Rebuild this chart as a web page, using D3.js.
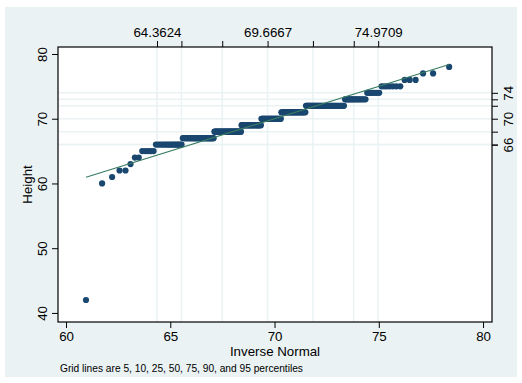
<!DOCTYPE html>
<html>
<head>
<meta charset="utf-8">
<script src="https://cdn.jsdelivr.net/npm/d3@7"></script>
<style>
  body { margin: 0; background: #fff; }
  text { font-family: "Liberation Sans", Arial, sans-serif; fill: #000; }
</style>
</head>
<body>
<div id="chart"></div>
<script>
// sorted heights and how many observations have each value
const heights = [42, 60, 61, 62, 63, 64, 65, 66, 67, 68, 69, 70, 71, 72, 73, 74, 75, 76, 77, 78];
const counts  = [1, 1, 1, 2, 1, 2, 5, 16, 32, 39, 33, 34, 39, 46, 16, 7, 7, 3, 2, 1];

// mean and sd of the normal used for the inverse-normal axis
const meanH = 69.6667;
const sdH = 3.22474;

const xTicks = [60, 65, 70, 75, 80];
const yTicks = [40, 50, 60, 70, 80];

// percentile grid (5,10,25,50,75,90,95)
const pctX = [64.3624, 65.5340, 67.4916, 69.6667, 71.8418, 73.7994, 74.9709];
const pctXLabels = ["64.3624", "", "", "69.6667", "", "", "74.9709"];
const pctY = [66, 66, 68, 70, 72, 73, 74];
const pctYLabels = ["66", "", "", "70", "", "", "74"];

const W = 522, H = 383;
const plot = { left: 58, right: 492, top: 47, bottom: 322 };

const x = d3.scaleLinear().domain([59.615, 80.43]).range([plot.left, plot.right]);
const y = d3.scaleLinear().domain([38.6, 81.08]).range([plot.bottom, plot.top]);

// Acklam's approximation of the normal quantile
function invNorm(p) {
  const a = [-3.969683028665376e+01, 2.209460984245205e+02, -2.759285104469687e+02, 1.383577518672690e+02, -3.066479806614716e+01, 2.506628277459239e+00];
  const b = [-5.447609879822406e+01, 1.615858368580409e+02, -1.556989798598866e+02, 6.680131188771972e+01, -1.328068155288572e+01];
  const c = [-7.784894002430293e-03, -3.223964580411365e-01, -2.400758277161838e+00, -2.549732539343734e+00, 4.374664141464968e+00, 2.938163982698783e+00];
  const d = [7.784695709041462e-03, 3.224671290700398e-01, 2.445134137142996e+00, 3.754408661907416e+00];
  const pl = 0.02425;
  if (p < pl) {
    const q = Math.sqrt(-2 * Math.log(p));
    return (((((c[0]*q+c[1])*q+c[2])*q+c[3])*q+c[4])*q+c[5]) / ((((d[0]*q+d[1])*q+d[2])*q+d[3])*q+1);
  }
  if (p > 1 - pl) {
    const q = Math.sqrt(-2 * Math.log(1 - p));
    return -(((((c[0]*q+c[1])*q+c[2])*q+c[3])*q+c[4])*q+c[5]) / ((((d[0]*q+d[1])*q+d[2])*q+d[3])*q+1);
  }
  const q = p - 0.5, r = q * q;
  return (((((a[0]*r+a[1])*r+a[2])*r+a[3])*r+a[4])*r+a[5])*q / (((((b[0]*r+b[1])*r+b[2])*r+b[3])*r+b[4])*r+1);
}

// expand to observations, place at i/(n+1) quantiles
const obs = [];
heights.forEach((h, i) => { for (let k = 0; k < counts[i]; k++) obs.push(h); });
const n = obs.length;
const pts = obs.map((h, i) => ({ q: meanH + sdH * invNorm((i + 1) / (n + 1)), h }));

const svg = d3.select("#chart").append("svg")
  .attr("width", W).attr("height", H);

// outer region
svg.append("rect")
  .attr("x", 5).attr("y", 7).attr("width", 512).attr("height", 370)
  .attr("fill", "#eaf2f3");

// plot region
svg.append("rect")
  .attr("x", plot.left).attr("y", plot.top)
  .attr("width", plot.right - plot.left).attr("height", plot.bottom - plot.top)
  .attr("fill", "#fff");

// grid lines
svg.selectAll("line.gx").data(pctX).enter().append("line")
  .attr("class", "gx")
  .attr("x1", d => x(d)).attr("x2", d => x(d))
  .attr("y1", plot.top).attr("y2", plot.bottom)
  .attr("stroke", "#eaf2f3").attr("stroke-width", 1.5);
svg.selectAll("line.gy").data(pctY).enter().append("line")
  .attr("class", "gy")
  .attr("x1", plot.left).attr("x2", plot.right)
  .attr("y1", d => y(d)).attr("y2", d => y(d))
  .attr("stroke", "#eaf2f3").attr("stroke-width", 1.5);

// points
svg.append("g").selectAll("circle").data(pts).enter().append("circle")
  .attr("cx", d => x(d.q)).attr("cy", d => y(d.h))
  .attr("r", 3.1)
  .attr("fill", "#1a476f");

// reference line y = x
const ext = d3.extent(pts, d => d.q);
svg.append("path")
  .datum([ext[0], ext[1]])
  .attr("d", d3.line().x(d => x(d)).y(d => y(d)))
  .attr("fill", "none")
  .attr("stroke", "#3a7d63")
  .attr("stroke-width", 1.2);

// axes
const fs = "13.3px";
const bottomAxis = d3.axisBottom(x).tickValues(xTicks).tickSize(6).tickPadding(4);
const gb = svg.append("g").attr("transform", `translate(0,${plot.bottom})`).call(bottomAxis);
gb.selectAll("text").style("font-size", fs);

const leftAxis = d3.axisLeft(y).tickValues(yTicks).tickSize(6).tickPadding(4);
const gl = svg.append("g").attr("transform", `translate(${plot.left},0)`).call(leftAxis);
gl.selectAll("text")
  .style("font-size", fs)
  .attr("text-anchor", "middle")
  .attr("dy", null)
  .attr("dominant-baseline", "central")
  .attr("transform", "translate(-16,0) rotate(-90)")
  .attr("x", 0).attr("y", 0);

const topAxis = d3.axisTop(x).tickValues(pctX).tickSize(6).tickPadding(4)
  .tickFormat((d, i) => pctXLabels[i]);
const gt = svg.append("g").attr("transform", `translate(0,${plot.top})`).call(topAxis);
gt.selectAll("text").style("font-size", fs);

const rightAxis = d3.axisRight(y).tickValues(pctY).tickSize(6).tickPadding(4)
  .tickFormat((d, i) => pctYLabels[i]);
const gr = svg.append("g").attr("transform", `translate(${plot.right},0)`).call(rightAxis);
gr.selectAll("text")
  .style("font-size", fs)
  .attr("text-anchor", "middle")
  .attr("dy", null)
  .attr("dominant-baseline", "central")
  .attr("transform", "translate(16,0) rotate(-90)")
  .attr("x", 0).attr("y", 0);

[gb, gl, gt, gr].forEach(g => {
  g.select(".domain").remove();
  g.selectAll("line").attr("stroke", "#000");
});

// frame
svg.append("rect")
  .attr("x", plot.left).attr("y", plot.top)
  .attr("width", plot.right - plot.left).attr("height", plot.bottom - plot.top)
  .attr("fill", "none").attr("stroke", "#000").attr("stroke-width", 1.2);

// titles
svg.append("text")
  .attr("x", (plot.left + plot.right) / 2).attr("y", 355.5)
  .attr("text-anchor", "middle")
  .style("font-size", fs)
  .text("Inverse Normal");

svg.append("text")
  .attr("transform", `translate(31.5,${(plot.top + plot.bottom) / 2}) rotate(-90)`)
  .attr("text-anchor", "middle")
  .style("font-size", fs)
  .text("Height");

svg.append("text")
  .attr("x", 60).attr("y", 372)
  .style("font-size", "10.2px")
  .text("Grid lines are 5, 10, 25, 50, 75, 90, and 95 percentiles");
</script>
</body>
</html>
